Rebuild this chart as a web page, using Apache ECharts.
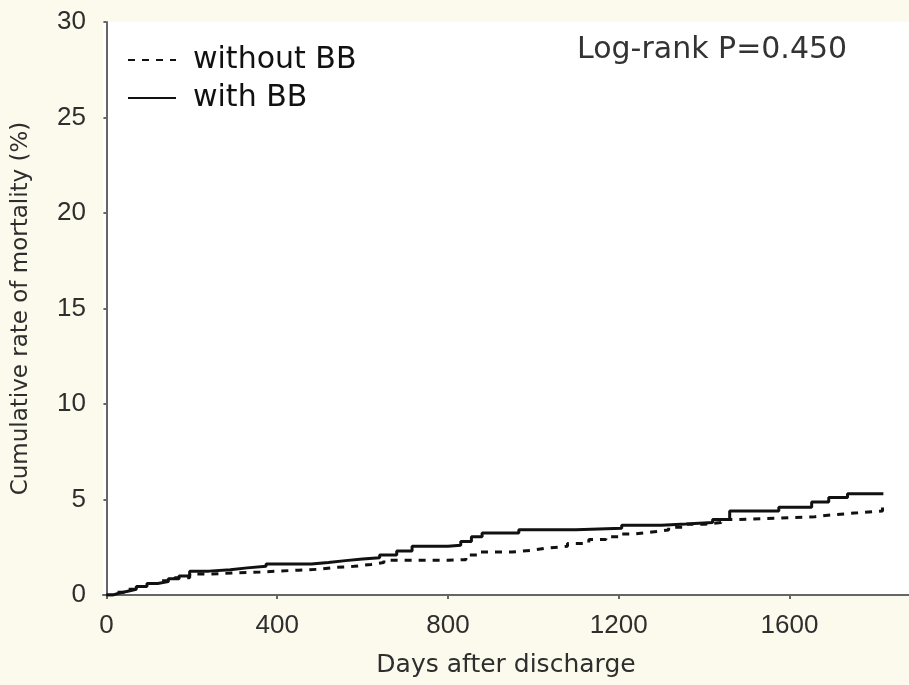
<!DOCTYPE html>
<html>
<head>
<meta charset="utf-8">
<title>Cumulative rate of mortality</title>
<script src="https://cdn.jsdelivr.net/npm/echarts@6/dist/echarts.min.js"></script>
<style>
  html, body { margin: 0; padding: 0; background: #fcfaec; }
  #chart { width: 909px; height: 685px; }
</style>
</head>
<body>
<div id="chart"></div>
<script>
// Kaplan-Meier style cumulative mortality, step points (day, % after event)
const daysWithBB = [0, 15, 30, 50, 70, 95, 120, 145, 170, 195, 240, 290, 330, 374, 480, 520, 560, 600, 640, 680, 716, 800, 830, 855, 880, 966, 1100, 1207, 1300, 1357, 1420, 1460, 1575, 1652, 1692, 1736, 1820];
const rateWithBB = [0, 0.1, 0.2, 0.3, 0.45, 0.6, 0.7, 0.85, 1.0, 1.25, 1.32, 1.42, 1.5, 1.62, 1.7, 1.8, 1.88, 1.95, 2.1, 2.3, 2.55, 2.6, 2.8, 3.05, 3.25, 3.42, 3.5, 3.65, 3.72, 3.8, 3.95, 4.4, 4.6, 4.87, 5.1, 5.3, 5.3];

const daysWithoutBB = [0, 20, 45, 75, 100, 130, 160, 195, 240, 300, 360, 400, 450, 500, 540, 580, 620, 650, 800, 842, 872, 950, 1000, 1029, 1080, 1130, 1170, 1200, 1240, 1278, 1317, 1360, 1400, 1440, 1474, 1600, 1660, 1700, 1760, 1818, 1818];
const rateWithoutBB = [0, 0.15, 0.3, 0.45, 0.6, 0.75, 0.9, 1.1, 1.15, 1.2, 1.25, 1.3, 1.35, 1.45, 1.5, 1.6, 1.7, 1.82, 1.85, 2.1, 2.25, 2.35, 2.45, 2.55, 2.7, 2.9, 3.05, 3.2, 3.3, 3.4, 3.55, 3.7, 3.8, 3.95, 4.05, 4.1, 4.2, 4.3, 4.4, 4.4, 4.75];

const xTicks = [0, 400, 800, 1200, 1600];
const seriesNames = ['without BB', 'with BB'];
const pValueText = 'Log-rank P=0.450';

const zip = (xs, ys) => xs.map((x, i) => [x, ys[i]]);

const chart = echarts.init(document.getElementById('chart'), null, { renderer: 'canvas' });

const axisColor = '#666';
const labelColor = '#2e2e2e';

chart.setOption({
  backgroundColor: '#fcfaec',
  animation: false,
  grid: {
    left: 103, top: 22, right: 0, bottom: 90,
    show: true, backgroundColor: '#ffffff', borderWidth: 0
  },
  legend: {
    orient: 'vertical',
    left: 122, top: 40,
    itemWidth: 48, itemHeight: 14, itemGap: 8,
    selectedMode: false,
    itemStyle: { opacity: 0, borderWidth: 0 },
    textStyle: {
      fontFamily: 'DejaVu Sans', fontSize: 30, lineHeight: 30, color: '#111',
      padding: [0, 0, 0, 12]
    },
    data: seriesNames
  },
  graphic: [{
    type: 'text', left: 577, top: 35,
    style: { text: pValueText, font: '30px "DejaVu Sans"', fill: '#333' }
  }],
  xAxis: {
    type: 'value', min: -8, max: 1880,
    name: 'Days after discharge', nameLocation: 'middle', nameGap: 58,
    nameTextStyle: { fontFamily: 'DejaVu Sans', fontSize: 25, color: labelColor },
    axisLine: { show: true, lineStyle: { color: axisColor, width: 2 } },
    axisTick: { show: true, customValues: xTicks, length: 4, lineStyle: { color: axisColor, width: 2 } },
    axisLabel: {
      customValues: xTicks, margin: 18, fontFamily: 'Liberation Sans', fontSize: 26, color: labelColor,
      formatter: (v) => String(v)
    },
    splitLine: { show: false }
  },
  yAxis: {
    type: 'value', min: 0, max: 30, interval: 5,
    name: 'Cumulative rate of mortality (%)', nameLocation: 'middle', nameGap: 70,
    nameTextStyle: { fontFamily: 'DejaVu Sans', fontSize: 23, color: labelColor },
    axisLine: { show: true, lineStyle: { color: axisColor, width: 2 } },
    axisTick: { show: true, length: 3, lineStyle: { color: axisColor, width: 2 } },
    axisLabel: { margin: 17, fontFamily: 'Liberation Sans', fontSize: 26, color: labelColor },
    splitLine: { show: false }
  },
  series: [
    {
      name: seriesNames[0], type: 'line', step: 'end', symbol: 'none',
      data: zip(daysWithoutBB, rateWithoutBB),
      lineStyle: { color: '#111', width: 3, type: [7, 7] },
      itemStyle: { color: '#111' }
    },
    {
      name: seriesNames[1], type: 'line', step: 'end', symbol: 'none',
      data: zip(daysWithBB, rateWithBB),
      lineStyle: { color: '#111', width: 3 },
      itemStyle: { color: '#111' }
    }
  ]
});
</script>
</body>
</html>
